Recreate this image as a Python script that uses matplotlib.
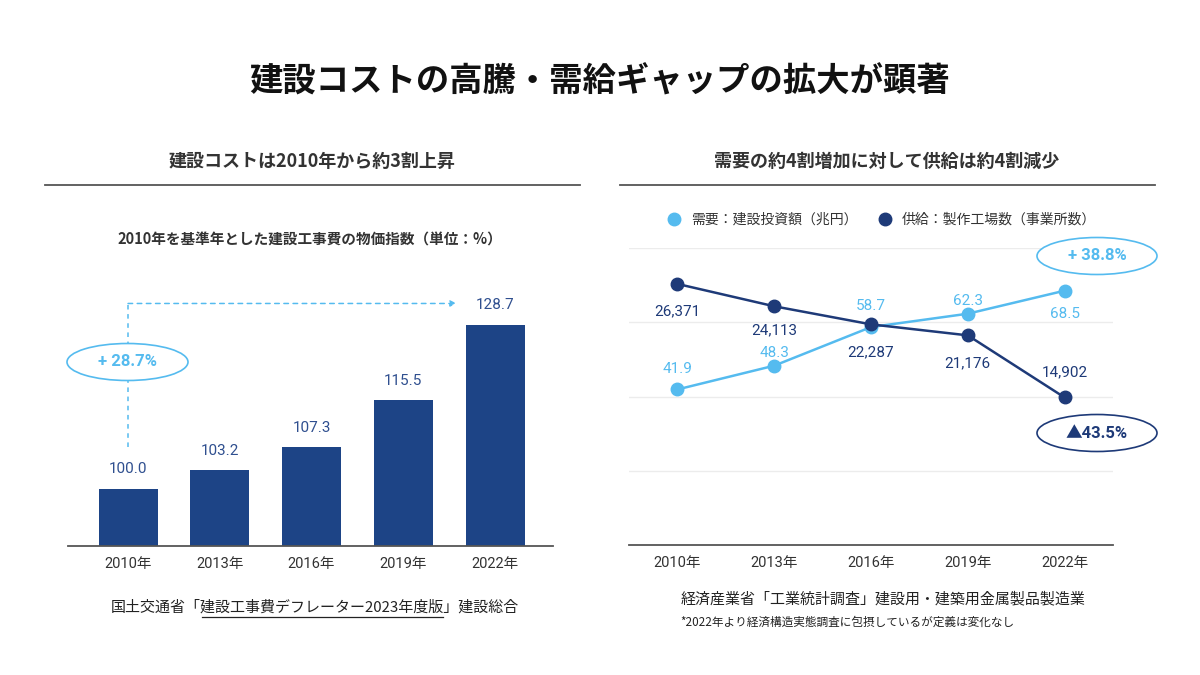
import matplotlib
matplotlib.use("Agg")
import matplotlib.pyplot as plt
from matplotlib.patches import Ellipse
from matplotlib.lines import Line2D

plt.rcParams['font.family'] = ['Noto Sans CJK JP', 'DejaVu Sans']

# ---- data ----
years = ["2010年", "2013年", "2016年", "2019年", "2022年"]
cost_index = [100.0, 103.2, 107.3, 115.5, 128.7]
demand = [41.9, 48.3, 58.7, 62.3, 68.5]          # 建設投資額（兆円）
supply = [26371, 24113, 22287, 21176, 14902]     # 製作工場数（事業所数）
cost_change = "+ 28.7%"
demand_change = "+ 38.8%"
supply_change = "▲43.5%"

# label offsets (points) – style only
demand_dy = [10, 4, 10, 4, -12]
supply_dy = [-15, -12, -15, -15, 13]

W, H = 1200, 675
fig = plt.figure(figsize=(12, 6.75), dpi=100)
fig.patch.set_facecolor("white")

def fx(x):
    return x / W

def fy(y):
    return 1 - y / H

def axrect(x0, y0, x1, y1):
    return [fx(x0), fy(y1), fx(x1) - fx(x0), fy(y0) - fy(y1)]

BAR = "#1d4486"
NAVY = "#1e3a78"
LIGHT = "#55bbef"
GRID = "#ececec"
TXT = "#333333"
NUMF = ['Roboto', 'Noto Sans CJK JP']

# ---- titles ----
fig.text(fx(600), fy(82), "建設コストの高騰・需給ギャップの拡大が顕著",
         ha="center", va="center", fontsize=24, fontweight="bold", color="#111111")
fig.text(fx(312), fy(161), "建設コストは2010年から約3割上昇",
         ha="center", va="center", fontsize=13, fontweight="bold", color=TXT)
fig.text(fx(887), fy(161), "需要の約4割増加に対して供給は約4割減少",
         ha="center", va="center", fontsize=13, fontweight="bold", color=TXT)
fig.add_artist(Line2D([fx(45), fx(580)], [fy(185), fy(185)], color="#555555", lw=1.3))
fig.add_artist(Line2D([fx(620), fx(1155)], [fy(185), fy(185)], color="#555555", lw=1.3))
fig.text(fx(310), fy(240), "2010年を基準年とした建設工事費の物価指数（単位：%）",
         ha="center", va="center", fontsize=10.5, fontweight="bold", color=TXT)

# ---- left: bar chart ----
ax1 = fig.add_axes(axrect(68, 260, 553, 546))
xs = list(range(len(years)))
ax1.bar(xs, cost_index, width=0.643, color=BAR, zorder=2)
ax1.set_xlim(-0.654, 4.63)
ax1.set_ylim(90, 140)
for s in ["top", "right", "left"]:
    ax1.spines[s].set_visible(False)
ax1.spines["bottom"].set_color("#555555")
ax1.spines["bottom"].set_linewidth(1.3)
ax1.set_yticks([])
ax1.set_xticks(xs)
ax1.set_xticklabels(years, fontsize=10.5, color=TXT, family=NUMF)
ax1.tick_params(axis="x", length=0, pad=8)
for x, v in zip(xs, cost_index):
    ax1.annotate(f"{v:.1f}", (x, v), xytext=(0, 9), textcoords="offset points",
                 ha="center", va="bottom", fontsize=11, color="#2f4f8f", family=NUMF)

# dashed arrow from 2010 toward 2022
y_low = cost_index[0] + 7.3
y_top = 132.4
ax1.plot([0, 0], [y_low, y_top], ls=(0, (3, 3)), color=LIGHT, lw=1.1)
ax1.annotate("", xy=(3.58, y_top), xytext=(0, y_top),
             arrowprops=dict(arrowstyle="-|>", ls=(0, (3, 3)), color=LIGHT, lw=1.1,
                             shrinkA=0, shrinkB=0, mutation_scale=9))
fig.add_artist(Ellipse((fx(127.5), fy(362)), fx(121), 37 / H, facecolor="white",
                       edgecolor=LIGHT, lw=1.2, zorder=5))
fig.text(fx(127.5), fy(362), cost_change, ha="center", va="center",
         fontsize=12, color=LIGHT, family=NUMF, zorder=6, fontweight="bold")

# ---- right: line chart ----
ax2 = fig.add_axes(axrect(629, 248, 1113, 545))
ax3 = ax2.twinx()
ax2.set_xlim(-0.5, 4.5)
ax2.set_ylim(0, 80)
ax3.set_ylim(0, 30000)
for a in (ax2, ax3):
    for s in ["top", "right", "left"]:
        a.spines[s].set_visible(False)
    a.set_yticks([])
ax3.spines["bottom"].set_visible(False)
ax2.spines["bottom"].set_color("#555555")
ax2.spines["bottom"].set_linewidth(1.3)
for g in [20, 40, 60, 80]:
    ax2.axhline(g, color=GRID, lw=1, zorder=0)
ax2.set_xticks(xs)
ax2.set_xticklabels(years, fontsize=10.5, color=TXT, family=NUMF)
ax2.tick_params(axis="x", length=0, pad=8)

ax2.plot(xs, demand, color=LIGHT, lw=1.8, marker="o", ms=9, zorder=3)
ax3.plot(xs, supply, color=NAVY, lw=1.8, marker="o", ms=9, zorder=3)
for x, v, d in zip(xs, demand, demand_dy):
    ax2.annotate(f"{v:.1f}", (x, v), xytext=(0, d), textcoords="offset points",
                 ha="center", va="bottom" if d > 0 else "top",
                 fontsize=11, color=LIGHT, family=NUMF)
for x, v, d in zip(xs, supply, supply_dy):
    ax3.annotate(f"{v:,}", (x, v), xytext=(0, d), textcoords="offset points",
                 ha="center", va="bottom" if d > 0 else "top",
                 fontsize=11, color=NAVY, family=NUMF)

fig.add_artist(Ellipse((fx(1097), fy(256)), fx(120), 37 / H, facecolor="white",
                       edgecolor=LIGHT, lw=1.2, zorder=5))
fig.text(fx(1097), fy(256), demand_change, ha="center", va="center",
         fontsize=12, color=LIGHT, family=NUMF, fontweight="bold", zorder=6)
fig.add_artist(Ellipse((fx(1097), fy(433)), fx(120), 37 / H, facecolor="white",
                       edgecolor=NAVY, lw=1.2, zorder=5))
fig.text(fx(1097), fy(433), supply_change, ha="center", va="center",
         fontsize=12, color=NAVY, family=NUMF, fontweight="bold", zorder=6)

handles = [Line2D([], [], ls="", marker="o", ms=9, color=LIGHT),
           Line2D([], [], ls="", marker="o", ms=9, color=NAVY)]
fig.legend(handles, ["需要：建設投資額（兆円）", "供給：製作工場数（事業所数）"],
           loc="center", bbox_to_anchor=(fx(878), fy(220)), ncol=2, frameon=False,
           fontsize=10, handletextpad=0.2, columnspacing=1.0, labelcolor=TXT)

# ---- sources ----
fig.text(fx(315), fy(607), "国土交通省「建設工事費デフレーター2023年度版」建設総合",
         ha="center", va="center", fontsize=10.8, color="#222222")
fig.add_artist(Line2D([fx(202), fx(443)], [fy(617), fy(617)], color="#222222", lw=0.9))
fig.text(fx(883), fy(599), "経済産業省「工業統計調査」建設用・建築用金属製品製造業",
         ha="center", va="center", fontsize=10.8, color="#222222")
fig.text(fx(680), fy(622), "*2022年より経済構造実態調査に包摂しているが定義は変化なし",
         ha="left", va="center", fontsize=8.4, color="#222222")

fig.savefig("out.png", dpi=100, facecolor="white")
